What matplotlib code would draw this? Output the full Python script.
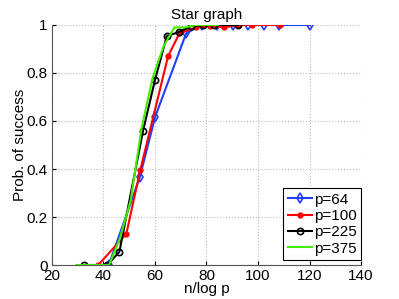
import matplotlib
matplotlib.use("Agg")
import matplotlib.pyplot as plt

# data (x = n/log p, y = probability of success)
x64 = [42.1, 54.1, 60.1, 72.1, 78.1, 84.2, 90.2, 96.2, 102.2, 108.2, 120.2]
y64 = [0.0, 0.365, 0.618, 0.965, 1.0, 1.0, 1.0, 1.0, 1.0, 1.0, 1.0]

x100 = [38.0, 48.9, 54.3, 65.1, 69.5, 76.0, 81.4, 86.9, 92.3, 97.7, 108.6]
y100 = [0.0, 0.13, 0.395, 0.87, 0.965, 0.99, 0.995, 0.99, 1.0, 1.0, 1.0]

x225 = [32.3, 41.5, 46.2, 55.4, 60.0, 64.6, 69.2, 73.9, 78.5, 83.1, 92.3]
y225 = [0.0, 0.0, 0.055, 0.56, 0.77, 0.954, 0.97, 0.995, 1.0, 1.0, 1.0]

x375 = [29.5, 38.0, 42.2, 46.4, 50.6, 54.8, 59.1, 63.3, 67.5, 71.7, 75.9, 84.4]
y375 = [0.0, 0.0, 0.0, 0.11, 0.27, 0.57, 0.78, 0.91, 0.99, 0.99, 1.0, 1.0]

labels = ["p=64", "p=100", "p=225", "p=375"]
xticks = [20, 40, 60, 80, 100, 120, 140]
yticks = [0, 0.2, 0.4, 0.6, 0.8, 1.0]
yticklabels = ["0", "0.2", "0.4", "0.6", "0.8", "1"]

plt.rcParams['font.family'] = ['Liberation Sans', 'DejaVu Sans']
fig = plt.figure(figsize=(3.99, 2.99), dpi=100)
ax = fig.add_axes([0.130, 0.1137, 0.775, 0.8027])

ax.plot(x64, y64, '-d', color='#1f3fff', lw=1.5, ms=5, mfc='none', mew=1.2, label=labels[0])
ax.plot(x100, y100, linestyle='-', marker='.', color='#ff0000', lw=1.5, ms=7, label=labels[1])
ax.plot(x225, y225, '-o', color='black', lw=1.5, ms=4.5, mfc='none', mew=1.2, label=labels[2])
ax.plot(x375, y375, '-', color='#44ee00', lw=1.5, label=labels[3])

ax.set_xlim(20, 140)
ax.set_ylim(0, 1)
ax.set_xticks(xticks)
ax.set_yticks(yticks)
ax.set_yticklabels(yticklabels)
ax.tick_params(direction='in', labelsize=11, length=3, top=False, right=False)
ax.tick_params(axis='x', pad=3)
ax.tick_params(axis='y', pad=3)
ax.grid(True, linestyle=':', color='#bbbbbb', lw=0.8)
ax.spines['top'].set_visible(False)
ax.spines['right'].set_visible(False)
for s in ['left', 'bottom']:
    ax.spines[s].set_color('#555555')
    ax.spines[s].set_linewidth(0.8)

ax.set_title("Star graph", fontsize=11, pad=4)
ax.set_xlabel("n/log p", fontsize=11, labelpad=-1)
ax.set_ylabel("Prob. of success", fontsize=11, labelpad=0)

leg = ax.legend(loc='lower right', bbox_to_anchor=(1.0, 0.02), fontsize=11, frameon=True,
                fancybox=False, edgecolor='black', handlelength=1.6, handletextpad=0.1,
                labelspacing=0.15, borderpad=0.3, borderaxespad=0.0, framealpha=1)
leg.get_frame().set_linewidth(0.8)

fig.savefig("out.png", dpi=100)
